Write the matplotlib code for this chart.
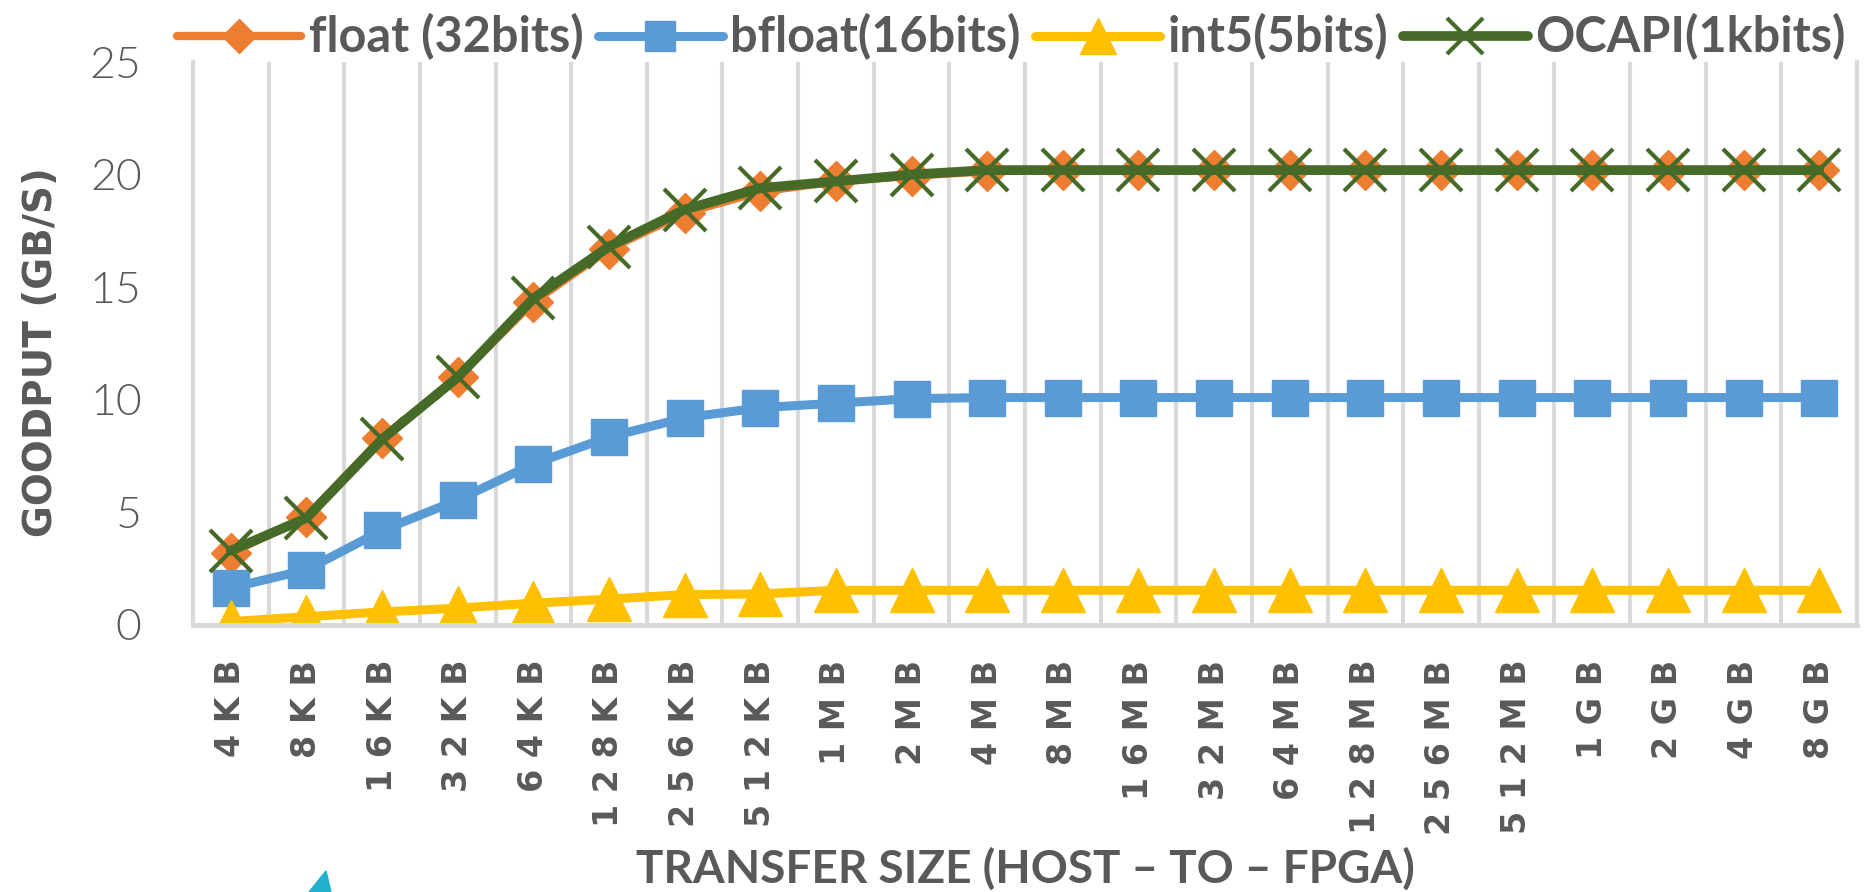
import matplotlib
matplotlib.use("Agg")
import matplotlib.pyplot as plt
from matplotlib.patches import Polygon
import numpy as np

# transfer sizes (host -> FPGA)
sizes = ["4KB", "8KB", "16KB", "32KB", "64KB", "128KB", "256KB", "512KB",
         "1MB", "2MB", "4MB", "8MB", "16MB", "32MB", "64MB", "128MB",
         "256MB", "512MB", "1GB", "2GB", "4GB", "8GB"]

# goodput in GB/s
float32 = [3.2, 4.8, 8.3, 11.0, 14.35, 16.7, 18.3, 19.25, 19.7, 19.95, 20.15,
           20.2, 20.2, 20.2, 20.2, 20.2, 20.2, 20.2, 20.2, 20.2, 20.2, 20.2]
bfloat16 = [1.65, 2.45, 4.2, 5.55, 7.15, 8.35, 9.2, 9.65, 9.85, 10.05, 10.1,
            10.1, 10.1, 10.1, 10.1, 10.1, 10.1, 10.1, 10.1, 10.1, 10.1, 10.1]
int5 = [0.15, 0.37, 0.58, 0.75, 0.97, 1.15, 1.35, 1.38, 1.54, 1.54, 1.54,
        1.54, 1.54, 1.54, 1.54, 1.54, 1.54, 1.54, 1.54, 1.54, 1.54, 1.54]
ocapi = [3.3, 4.75, 8.25, 11.0, 14.5, 16.8, 18.45, 19.4, 19.7, 20.0, 20.2,
         20.2, 20.2, 20.2, 20.2, 20.2, 20.2, 20.2, 20.2, 20.2, 20.2, 20.2]

series_names = ["float (32bits)", "bfloat(16bits)", "int5(5bits)", "OCAPI(1kbits)"]
yticks = [0, 5, 10, 15, 20, 25]

TEXT = "#595959"
GRID = "#D9D9D9"

fig = plt.figure(figsize=(18.72, 8.92), dpi=100)
ax = fig.add_axes([193 / 1872, 1 - 625 / 892, 1664 / 1872, 563 / 892])

x = np.arange(len(sizes))
styles = [
    dict(color="#ED7D31", marker="D", ms=20, lw=6),
    dict(color="#5B9BD5", marker="s", ms=26, lw=6.5),
    dict(color="#FFC000", marker="^", ms=31, lw=6.5),
    dict(color="#466B29", marker="x", ms=30, lw=7, mew=3),
]
handles = []
for vals, name, st in zip([float32, bfloat16, int5, ocapi], series_names, styles):
    mew = st.pop("mew", 1)
    h, = ax.plot(x, vals, label=name, solid_capstyle="round", mew=mew,
                 mec=st["color"], mfc=st["color"], **st)
    handles.append(h)

ax.set_xlim(-0.5, len(sizes) - 0.5)
ax.set_ylim(0, 25)

# vertical grid between categories
ax.set_xticks(x)
ax.set_xticks(np.arange(-0.5, len(sizes), 1.0), minor=True)
ax.grid(True, which="minor", axis="x", color=GRID, lw=3)
ax.grid(False, which="major")
ax.set_axisbelow(True)
ax.tick_params(which="both", length=0)

ax.set_xticklabels([" ".join(s) for s in sizes], rotation=90,
                   fontsize=24, fontweight="bold", color=TEXT,
                   family="DejaVu Sans")
ax.tick_params(axis="x", pad=25)

ax.set_yticks(yticks)
ax.set_yticklabels([str(v) for v in yticks], fontsize=32, color=TEXT,
                   family=["Lato", "DejaVu Sans"], fontweight=300)
ax.tick_params(axis="y", pad=37)

for side in ["left", "right", "bottom"]:
    ax.spines[side].set_color(GRID)
    ax.spines[side].set_linewidth(3)
ax.spines["bottom"].set_linewidth(3.6)
ax.spines["top"].set_visible(False)

ax.set_ylabel("GOODPUT (GB/S)", fontsize=28, fontweight="bold", color=TEXT,
              family="DejaVu Sans", va="center")
ax.yaxis.set_label_coords(-0.0913, 0.485)

ax.set_xlabel("TRANSFER SIZE (HOST – TO – FPGA)", fontsize=33,
              fontweight="bold", color=TEXT, family=["Lato", "DejaVu Sans"],
              va="center")
ax.xaxis.set_label_coords(0.5, -0.4334)

fig.legend(handles=handles, loc="center", bbox_to_anchor=(0.540, 1 - 37 / 892),
           ncol=4, frameon=False, handlelength=2.57, handletextpad=0.15,
           columnspacing=0.3, markerscale=0.85, labelcolor=TEXT,
           prop={"family": ["Lato", "DejaVu Sans"], "weight": "bold", "size": 35})

# cyan arrow tip at the lower edge
W, H = 1872, 892
tip = [(309 / W, 0.0), (326 / W, 1 - 871 / H), (331 / W, 0.0)]
fig.add_artist(Polygon(tip, closed=True, color="#21B0CB",
                       transform=fig.transFigure))

fig.savefig("out.png", dpi=100)
